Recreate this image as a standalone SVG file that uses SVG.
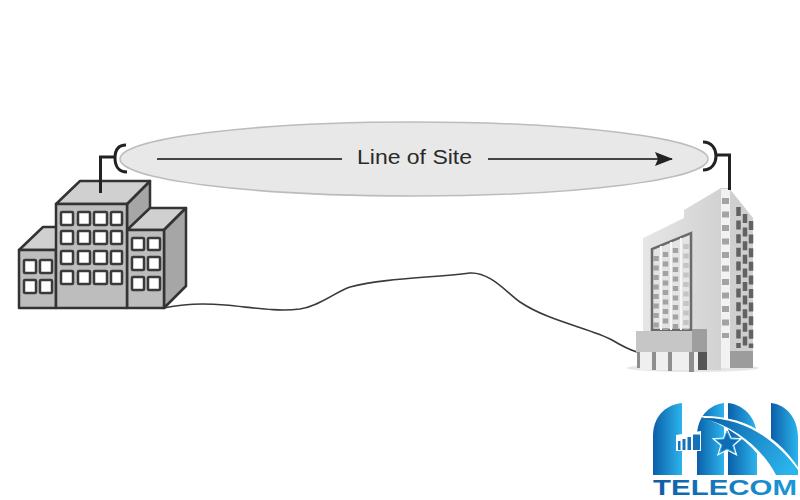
<svg xmlns="http://www.w3.org/2000/svg" width="800" height="500" viewBox="0 0 800 500">
<style>
.b{stroke:#333;stroke-width:2.500;stroke-linejoin:round}
.f{fill:#bdbdbd}.t{fill:#d0d0d0}.s{fill:#a6a6a6}
.w{fill:#fff;stroke:#3a3a3a;stroke-width:2.500}
.a{fill:none;stroke:#222;stroke-width:3}
.lg{fill:url(#blue)}
</style>
<defs>
<linearGradient id="blue" x1="0" y1="0" x2="1" y2="0"><stop offset="0" stop-color="#0b5fa8"/><stop offset="1" stop-color="#2cb4ec"/></linearGradient>
<linearGradient id="blue2" gradientUnits="userSpaceOnUse" x1="653" y1="0" x2="798" y2="0"><stop offset="0" stop-color="#0d5da6"/><stop offset="1" stop-color="#1c9ad8"/></linearGradient>
<linearGradient id="band" gradientUnits="userSpaceOnUse" x1="703" y1="420" x2="790" y2="470"><stop offset="0" stop-color="#0b5fa8"/><stop offset="1" stop-color="#2cb4ec"/></linearGradient>
<linearGradient id="wall" x1="0" y1="0" x2="1" y2="0"><stop offset="0" stop-color="#e6e6e6"/><stop offset="1" stop-color="#d2d2d2"/></linearGradient>
<marker id="head" viewBox="0 0 18 14" refX="17" refY="7" markerWidth="18" markerHeight="14" markerUnits="userSpaceOnUse" orient="auto"><path d="M0 0L18 7L0 14L3 7z" fill="#222"/></marker>
</defs>
<rect width="800" height="500" fill="#fff"/>
<g id="los">
<ellipse cx="414" cy="159" rx="294" ry="37" fill="#e8e8e8" stroke="#bcbcbc" stroke-width="1.500"/>
<text x="357" y="164" font-family="'Liberation Sans',Arial,sans-serif" font-size="20" textLength="115" lengthAdjust="spacingAndGlyphs" fill="#2a2a2a">Line of Site</text>
</g>
<g id="connectors" fill="none">
<path d="M157 159H342" stroke="#444" stroke-width="2.200"/>
<path d="M488 159H672" stroke="#444" stroke-width="2.200" marker-end="url(#head)"/>
<path d="M164 308C185 304 200 303 225 305C250 307 275 312 300 309C320 306 335 292 350 287C385 278 430 278 470 273C490 272 505 291 520 302C550 322 590 328 612 340C622 346 630 350 637 352" stroke="#3a3a3a" stroke-width="1.600"/>
</g>
<g id="building-left">
<path class="b t" d="M19 250L43 227H70V250z"/>
<rect class="b f" x="19" y="250" width="37" height="58"/>
<path class="b s" d="M127 204L150 181V230H127z"/>
<path class="b t" d="M56 204L80 181H150L127 204z"/>
<path class="b t" d="M127 230L150 208H186L164 230z"/>
<path class="b s" d="M164 230L186 208V286L164 308z"/>
<rect class="b f" x="127" y="230" width="37" height="78"/>
<rect class="b f" x="56" y="204" width="71" height="104"/>
<g id="win-main">
<rect class="w" x="61" y="212" width="12" height="13" rx="1"/><rect class="w" x="78" y="212" width="12" height="13" rx="1"/><rect class="w" x="94" y="212" width="13" height="13" rx="1"/><rect class="w" x="111" y="212" width="11" height="13" rx="1"/>
<rect class="w" x="61" y="231" width="12" height="13" rx="1"/><rect class="w" x="78" y="231" width="12" height="13" rx="1"/><rect class="w" x="94" y="231" width="13" height="13" rx="1"/><rect class="w" x="111" y="231" width="11" height="13" rx="1"/>
<rect class="w" x="61" y="251" width="12" height="13" rx="1"/><rect class="w" x="78" y="251" width="12" height="13" rx="1"/><rect class="w" x="94" y="251" width="13" height="13" rx="1"/><rect class="w" x="111" y="251" width="11" height="13" rx="1"/>
<rect class="w" x="61" y="271" width="12" height="13" rx="1"/><rect class="w" x="78" y="271" width="12" height="13" rx="1"/><rect class="w" x="94" y="271" width="13" height="13" rx="1"/><rect class="w" x="111" y="271" width="11" height="13" rx="1"/>
<rect class="w" x="132" y="238" width="12" height="12" rx="1"/><rect class="w" x="148" y="238" width="12" height="12" rx="1"/>
<rect class="w" x="132" y="257" width="12" height="13" rx="1"/><rect class="w" x="148" y="257" width="12" height="13" rx="1"/>
<rect class="w" x="132" y="277" width="12" height="13" rx="1"/><rect class="w" x="148" y="277" width="12" height="13" rx="1"/>
<rect class="w" x="24" y="260" width="12" height="13" rx="1"/><rect class="w" x="40" y="260" width="12" height="13" rx="1"/>
<rect class="w" x="24" y="280" width="12" height="13" rx="1"/><rect class="w" x="40" y="280" width="12" height="13" rx="1"/>
</g>
<path class="a" d="M100.500 193V157H115"/>
<path class="a" d="M126 145C117 145 115 152 115 158C115 165 118 172 127 172"/>
</g>
<g id="building-right">
<ellipse cx="693" cy="368" rx="66" ry="4" fill="#e6e6e6"/>
<path d="M643 238L684 218V210L721 188V370H643z" fill="url(#wall)"/>
<path d="M721 188H729L753 218V368H721z" fill="#cfcfcf"/>
<path d="M721 189H730V368H721z" fill="#f2f2f2"/>
<path d="M652 330V249L691 233V330z" fill="#e4e4e4" stroke="#6a6a6a" stroke-width="2.500"/>
<g fill="none" stroke="#f6f6f6" stroke-width="2"><path d="M661 246V330"/><path d="M671 242V330"/><path d="M681 238V330"/></g>
<g fill="none" stroke="#a2a2a2" stroke-width="5.500" stroke-dasharray="5 4.500"><path d="M656 256V330"/><path d="M665.500 252V330"/><path d="M675.500 248V330"/><path d="M686 244V330" stroke="#c4c4c4"/></g>
<path d="M725.500 198V338" fill="none" stroke="#a3a3a3" stroke-width="7" stroke-dasharray="6 7.500"/>
<g stroke="#626262" stroke-width="4.500" stroke-dasharray="9 4.600" fill="none"><path d="M738.500 207V348"/><path d="M745 214V348"/><path d="M751 221V348"/></g>
<rect x="730" y="351" width="23" height="17" fill="#9c9c9c"/>
<path d="M640 352h67v18h-67z" fill="#efefef"/>
<path d="M636 331H707V352H636z" fill="#c6c6c6"/>
<path d="M692 329H707V352H692z" fill="#9e9e9e"/>
<g fill="#8e8e8e"><rect x="637" y="352" width="3" height="16"/><rect x="652" y="352" width="4" height="18"/><rect x="668" y="352" width="4" height="19"/><rect x="689" y="352" width="5" height="20"/></g>
<rect x="698" y="352" width="9" height="18" fill="#555"/>
<path class="a" d="M703 142C712 142 716 149 716 156C716 163 712 170 703 170"/>
<path class="a" d="M716 155H729.500V190"/>
</g>
<g id="logo">
<path class="lg" d="M653 475V436C653 418 664 405 682 403V475z"/>
<path class="lg" d="M697 475V436C697 418 708 405 724 403V475z"/>
<path class="lg" d="M728 403C746 405 757 420 757 438V475H728z"/>
<path class="lg" d="M771 403C788 405 798 420 798 438V475H771z"/>
<path d="M699 416C745 414 780 438 800 470V478H773C760 450 735 428 699 416z" fill="#fff"/>
<path d="M703 418C742 417 775 438 798 470V475H776C762 449 738 428 703 418z" fill="url(#band)"/>
<path d="M676 435L701 431V451H676z" fill="#fff"/>
<path d="M678 441h2.500v9h-2.500zM682.500 439h3v11h-3zM687.500 437h3.500v13h-3.500zM693 434.500h7v15.500h-7z" fill="#1572b8"/>
<path d="M727 431L730.500 439L739 439.500L732.500 445L735 453L727 449L719.500 453L722 445L715.500 439.500L724 439z" fill="#1a86c9" stroke="#fff" stroke-width="3" paint-order="stroke"/>
<path d="M727 431L730.500 439L739 439.500L732.500 445L735 453L727 449L719.500 453L722 445L715.500 439.500L724 439z" fill="#0f6db5" stroke="#3fb3e6" stroke-width="1"/>
<text x="653" y="495" font-family="'Liberation Sans',Arial,sans-serif" font-weight="700" font-size="22" textLength="144" lengthAdjust="spacingAndGlyphs" fill="url(#blue2)">TELECOM</text>
</g>
</svg>
